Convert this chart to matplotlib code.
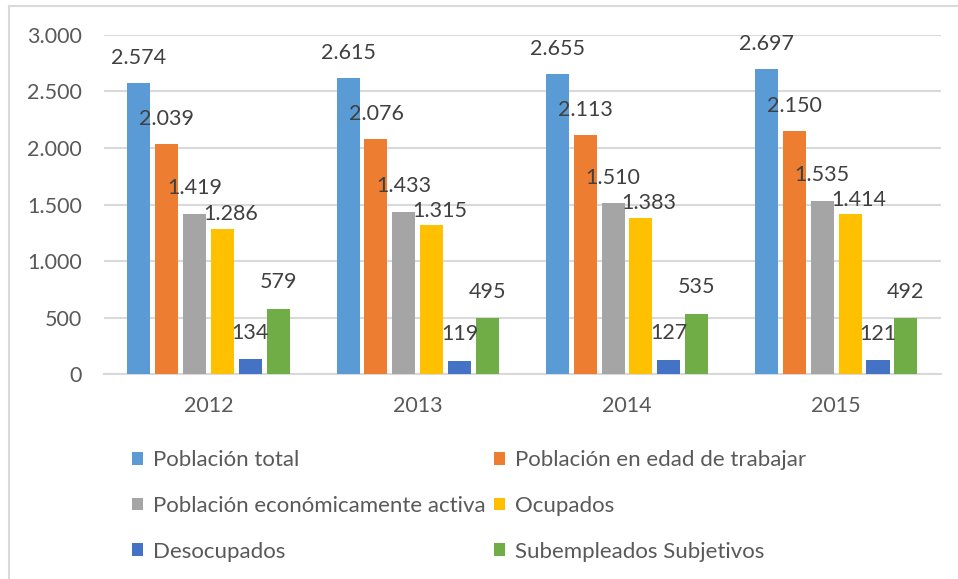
import matplotlib
matplotlib.use('Agg')
from matplotlib import pyplot as plt
from matplotlib.lines import Line2D
from matplotlib.ticker import FuncFormatter
import numpy as np

# Data (thousands)
years = ['2012', '2013', '2014', '2015']
series_names = ['Población total', 'Población en edad de trabajar',
                'Población económicamente activa', 'Ocupados',
                'Desocupados', 'Subempleados Subjetivos']
poblacion_total = [2574, 2615, 2655, 2697]
edad_trabajar = [2039, 2076, 2113, 2150]
pea = [1419, 1433, 1510, 1535]
ocupados = [1286, 1315, 1383, 1414]
desocupados = [134, 119, 127, 121]
subempleados = [579, 495, 535, 492]

colors = ['#5B9BD5', '#ED7D31', '#A5A5A5', '#FFC000', '#4472C4', '#70AD47']
all_series = [poblacion_total, edad_trabajar, pea, ocupados, desocupados, subempleados]
# label offsets in points (Ocupados labels are nudged to avoid the PEA labels)
label_offsets = [(0, 18), (0, 18), (0, 18.5), (6, 10.5), (0, 19), (0, 19)]

plt.rcParams['font.family'] = ['Lato', 'DejaVu Sans']

fig = plt.figure(figsize=(9.58, 5.79), dpi=100)
ax = fig.add_axes([0.1086, 0.354, 0.8734, 0.5856])

def thousands(v, pos):
    return '{:,.0f}'.format(v).replace(',', '.')

x = np.arange(len(years))
slot = 0.8 / len(all_series)
bar_w = 0.11
handles = []
for i, vals in enumerate(all_series):
    pos = x - 0.4 + slot * (i + 0.5)
    bars = ax.bar(pos, vals, width=bar_w, color=colors[i], zorder=3)
    handles.append(bars)
    for b, v in zip(bars, vals):
        ax.annotate(thousands(v, None),
                    (b.get_x() + b.get_width() / 2, b.get_height()),
                    xytext=label_offsets[i], textcoords='offset points',
                    ha='center', va='center', fontsize=15.5, color='#404040',
                    zorder=4)

ax.set_xlim(-0.5, len(years) - 0.5)
ax.set_ylim(0, 3000)
ax.set_yticks(range(0, 3001, 500))
ax.yaxis.set_major_formatter(FuncFormatter(thousands))
ax.set_xticks(x)
ax.set_xticklabels(years)
ax.grid(axis='y', color='#D9D9D9', linewidth=1.5, zorder=0)
for s in ['top', 'right', 'left']:
    ax.spines[s].set_visible(False)
ax.spines['bottom'].set_color('#D9D9D9')
ax.spines['bottom'].set_linewidth(1.5)
ax.tick_params(axis='both', length=0, labelsize=15.5, colors='#595959')
ax.tick_params(axis='y', pad=16)
ax.tick_params(axis='x', pad=16)

# legend filled row by row
order = [0, 2, 4, 1, 3, 5]
leg = fig.legend([handles[k] for k in order], [series_names[k] for k in order],
                 ncol=2, loc='upper left', bbox_to_anchor=(0.138, 0.222),
                 frameon=False, fontsize=16, handlelength=0.5, handleheight=0.5,
                 handletextpad=0.45, columnspacing=0.35, labelspacing=1.15,
                 borderaxespad=0, borderpad=0)
for t in leg.get_texts():
    t.set_color('#595959')

# chart border (left and top visible in reference)
fig.add_artist(Line2D([9 / 958, 9 / 958], [0, 1 - 6 / 579], color='#D9D9D9', linewidth=1.5))
fig.add_artist(Line2D([9 / 958, 1], [1 - 6 / 579, 1 - 6 / 579], color='#D9D9D9', linewidth=1.5))

plt.savefig('out.png', dpi=100)
